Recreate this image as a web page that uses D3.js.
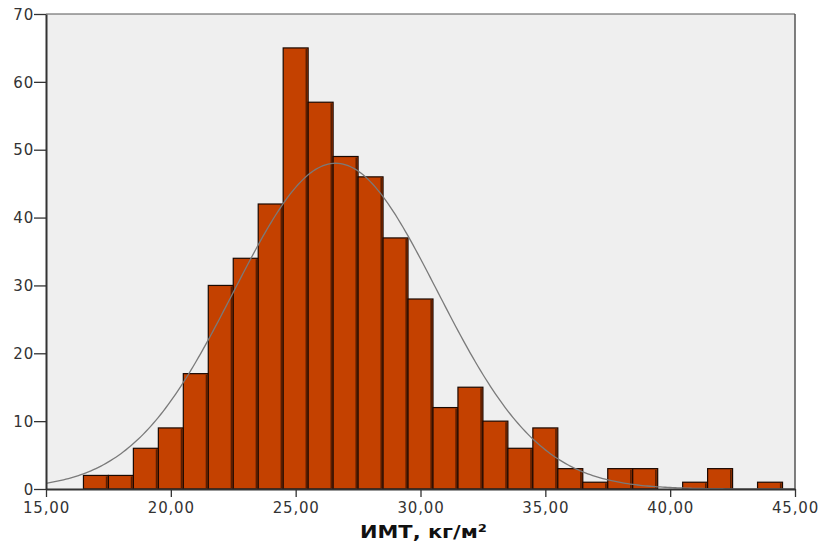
<!DOCTYPE html>
<html><head><meta charset="utf-8">
<script src="https://cdn.jsdelivr.net/npm/d3@7"></script>
<style>body{margin:0;background:#fff;}svg{display:block;font-family:"DejaVu Sans",Verdana,sans-serif;}</style>
</head><body>
<svg id="c" width="819" height="544"></svg>
<script>
const binCenters = [17,18,19,20,21,22,23,24,25,26,27,28,29,30,31,32,33,34,35,36,37,38,39,40,41,42,43,44];
const counts     = [2,2,6,9,17,30,34,42,65,57,49,46,37,28,12,15,10,6,9,3,1,3,3,0,1,3,0,1];
const xTicks = [15,20,25,30,35,40,45];
const yTicks = [0,10,20,30,40,50,60,70];
const fitMean = 26.6, fitSD = 4.08;
const binWidth = 1;
const xLabel = "ИМТ, кг/м²";

const svg = d3.select("#c");
const m = {l:46, r:795, t:14, b:489};
const x = d3.scaleLinear().domain([15,45]).range([m.l, m.r]);
const y = d3.scaleLinear().domain([0,70]).range([m.b, m.t]);
const N = d3.sum(counts);

svg.append("rect").attr("x",m.l).attr("y",m.t).attr("width",m.r-m.l).attr("height",m.b-m.t).attr("fill","#efefef");

const bars = svg.append("g");
binCenters.forEach((c,i)=>{
  if(counts[i]===0) return;
  const x0 = x(c-binWidth/2), x1 = x(c+binWidth/2), yt = y(counts[i]);
  bars.append("rect").attr("x",x0).attr("y",yt).attr("width",x1-x0).attr("height",m.b-yt)
    .attr("fill","#c44100").attr("stroke","#1a0800").attr("stroke-width",1.2);
  bars.append("line").attr("x1",x1-1.8).attr("x2",x1-1.8).attr("y1",yt+1).attr("y2",m.b)
    .attr("stroke","#5a1e00").attr("stroke-width",1.6);
});

const pts = d3.range(15,45.001,0.1).map(v=>[v, N*binWidth/(fitSD*Math.sqrt(2*Math.PI))*Math.exp(-0.5*((v-fitMean)/fitSD)**2)]);
svg.append("path").attr("d", d3.line().x(d=>x(d[0])).y(d=>y(d[1]))(pts))
  .attr("fill","none").attr("stroke","#7a7a7a").attr("stroke-width",1.3);

// frame
svg.append("line").attr("x1",m.l).attr("x2",m.r).attr("y1",m.t).attr("y2",m.t).attr("stroke","#555").attr("stroke-width",1);
svg.append("line").attr("x1",m.r).attr("x2",m.r).attr("y1",m.t).attr("y2",m.b).attr("stroke","#555").attr("stroke-width",1.5);

const fmt = d => d.toFixed(2).replace(".",",");
const xa = svg.append("g").attr("transform",`translate(0,${m.b})`)
  .call(d3.axisBottom(x).tickValues(xTicks).tickFormat(fmt).tickSize(8).tickSizeOuter(0));
const ya = svg.append("g").attr("transform",`translate(${m.l},0)`)
  .call(d3.axisLeft(y).tickValues(yTicks).tickSize(12).tickSizeOuter(0));
[xa,ya].forEach(a=>{
  a.select(".domain").attr("stroke","#333").attr("stroke-width",2);
  a.selectAll(".tick line").attr("stroke","#333").attr("stroke-width",1.3);
  a.selectAll("text").attr("fill","#333").style("font-size","15px").style("letter-spacing","0.8px")
    .style("font-family","'DejaVu Sans',Verdana,sans-serif");
});
xa.selectAll("text").attr("dy","0.72em").attr("y",13);
ya.selectAll("text").attr("x",-12).attr("dy","0.35em");

svg.append("text").attr("x",423.5).attr("y",538).attr("text-anchor","middle")
  .attr("textLength",127).attr("lengthAdjust","spacingAndGlyphs")
  .style("font-size","18px").style("font-weight","bold").attr("fill","#111").text(xLabel);
</script>
</body></html>
